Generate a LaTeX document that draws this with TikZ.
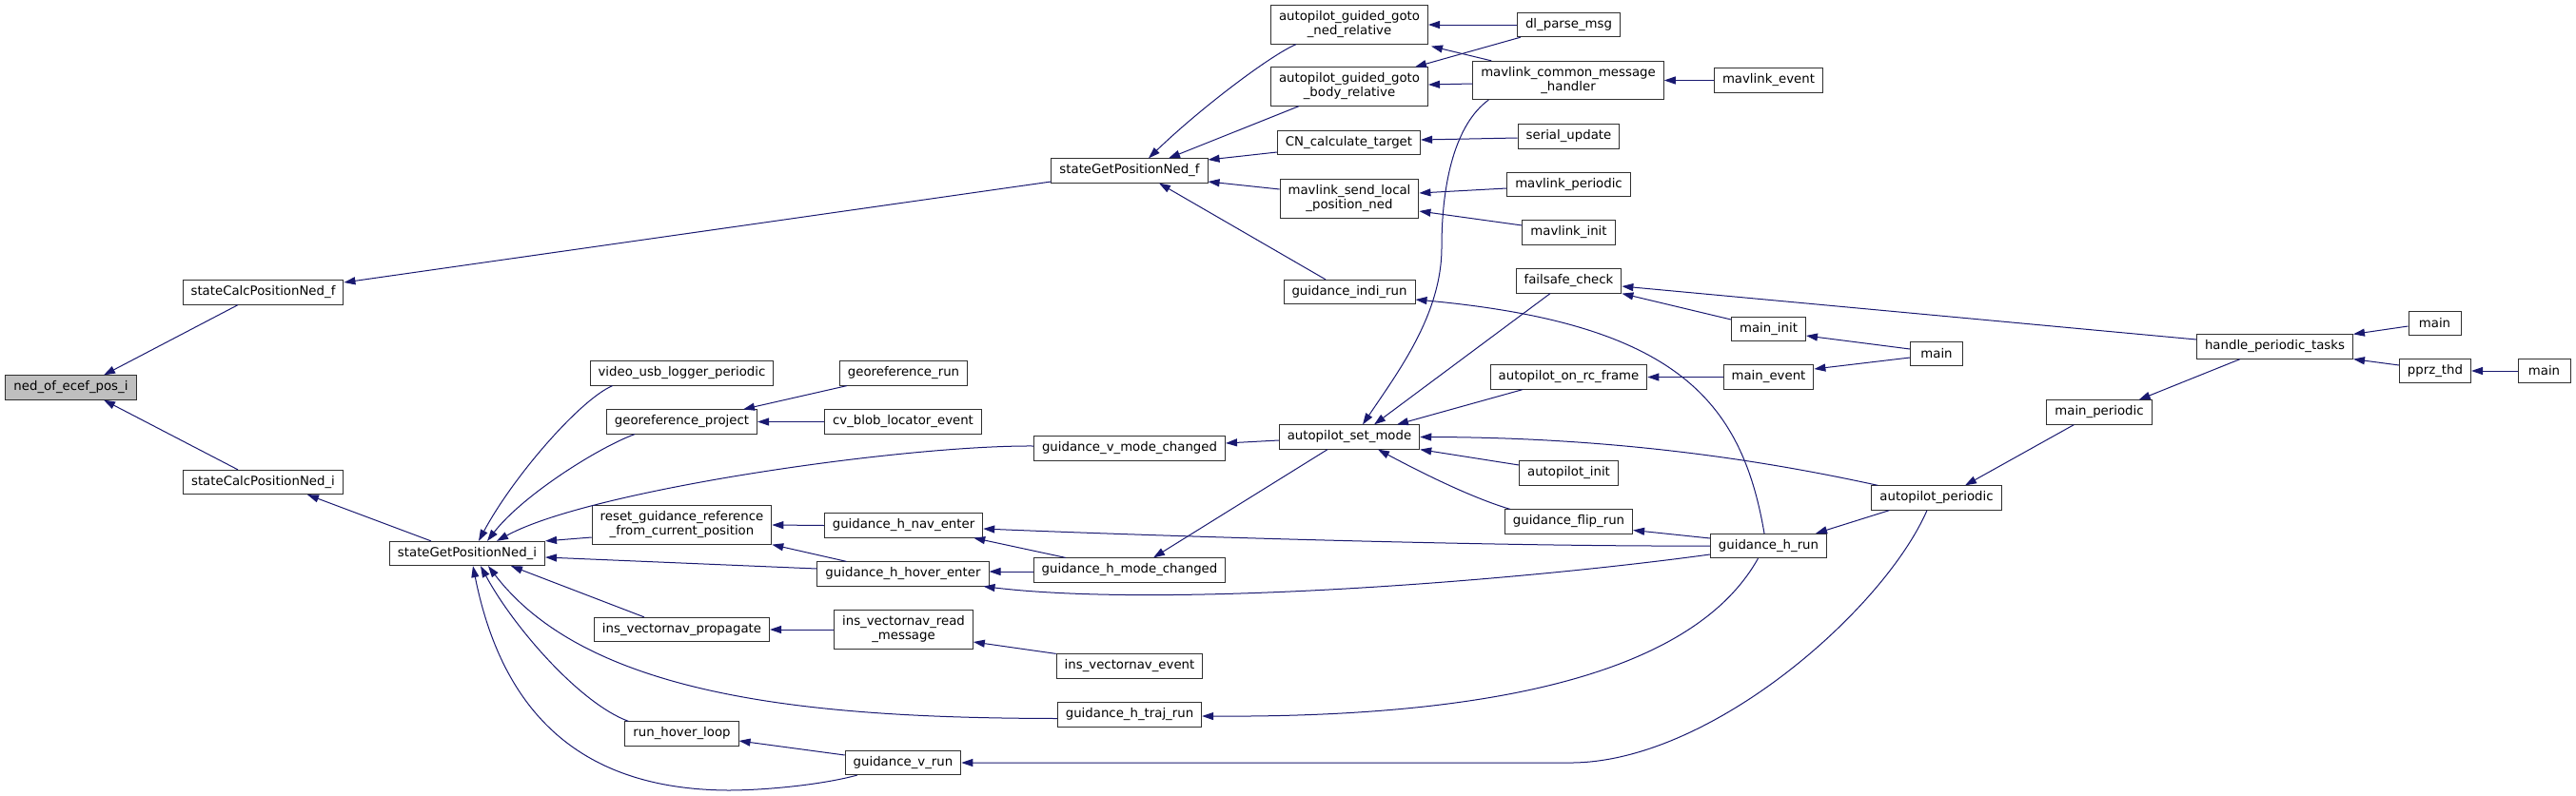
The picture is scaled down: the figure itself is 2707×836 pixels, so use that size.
\documentclass[tikz,border=0pt]{standalone}
\usepackage{fontspec}
\setmainfont{DejaVu Sans}
\usetikzlibrary{arrows.meta}
\definecolor{edgeblue}{HTML}{191970}
\definecolor{boxline}{HTML}{303030}
\definecolor{focusgray}{HTML}{BFBFBF}

\begin{document}
\begin{tikzpicture}[x=1pt, y=-1pt, >={Triangle[length=12pt,width=8pt]},
  fn/.style={draw=boxline, line width=1pt, fill=white, inner xsep=8.5pt, inner ysep=6pt,
    minimum height=25pt, minimum width=55pt, align=center, font=\fontsize{13.3}{15}\selectfont},
  call/.style={->, draw=edgeblue, line width=1pt}]
  \useasboundingbox (0,0) rectangle (2707,836);

  % functions, column by column
  \node[fn, fill=focusgray] (ned) at (74.5,407.5) {ned\_of\_ecef\_pos\_i};
  \node[fn] (calcf) at (276.5,307.5) {stateCalcPositionNed\_f};
  \node[fn] (calci) at (276.5,507) {stateCalcPositionNed\_i};
  \node[fn] (getni) at (491,582) {stateGetPositionNed\_i};
  \node[fn] (getnf) at (1187,179.5) {stateGetPositionNed\_f};

  \node[fn] (vidlog) at (716.5,392.5) {video\_usb\_logger\_periodic};
  \node[fn] (geoproj) at (716.5,443.5) {georeference\_project};
  \node[fn] (resetref) at (716.5,552) {reset\_guidance\_reference\\\_from\_current\_position};
  \node[fn] (vnprop) at (716.5,662) {ins\_vectornav\_propagate};
  \node[fn] (hoverloop) at (716.5,771.5) {run\_hover\_loop};

  \node[fn] (georun) at (949.5,392.5) {georeference\_run};
  \node[fn] (cvblob) at (949,443.5) {cv\_blob\_locator\_event};
  \node[fn] (naventer) at (949.5,552.5) {guidance\_h\_nav\_enter};
  \node[fn] (hoverenter) at (949,603.5) {guidance\_h\_hover\_enter};
  \node[fn] (vnread) at (949.5,662) {ins\_vectornav\_read\\\_message};
  \node[fn] (vrun) at (949,802) {guidance\_v\_run};

  \node[fn] (vmode) at (1187,471.5) {guidance\_v\_mode\_changed};
  \node[fn] (hmode) at (1187,599.5) {guidance\_h\_mode\_changed};
  \node[fn] (vnevent) at (1187,700.5) {ins\_vectornav\_event};
  \node[fn] (trajrun) at (1187,751.5) {guidance\_h\_traj\_run};

  \node[fn] (gotoned) at (1418,26) {autopilot\_guided\_goto\\\_ned\_relative};
  \node[fn] (gotobody) at (1418,91) {autopilot\_guided\_goto\\\_body\_relative};
  \node[fn] (cntarget) at (1417.5,150) {CN\_calculate\_target};
  \node[fn] (mavlocal) at (1418,209) {mavlink\_send\_local\\\_position\_ned};
  \node[fn] (indirun) at (1418,307) {guidance\_indi\_run};
  \node[fn] (setmode) at (1418,459.5) {autopilot\_set\_mode};

  \node[fn] (dlparse) at (1648.5,26) {dl\_parse\_msg};
  \node[fn] (mavcommon) at (1648,84.5) {mavlink\_common\_message\\\_handler};
  \node[fn] (serupd) at (1648.5,143.5) {serial\_update};
  \node[fn] (mavper) at (1648.5,194) {mavlink\_periodic};
  \node[fn] (mavinit) at (1648.5,244.5) {mavlink\_init};
  \node[fn] (failsafe) at (1648.5,295.5) {failsafe\_check};
  \node[fn] (rcframe) at (1648.5,396.5) {autopilot\_on\_rc\_frame};
  \node[fn] (apinit) at (1648.5,497.5) {autopilot\_init};
  \node[fn] (fliprun) at (1648.5,548.5) {guidance\_flip\_run};

  \node[fn] (mavevent) at (1858.5,84.5) {mavlink\_event};
  \node[fn] (maininit) at (1858.5,346) {main\_init};
  \node[fn] (mainevent) at (1858.5,396.5) {main\_event};
  \node[fn] (hrun) at (1858.5,574) {guidance\_h\_run};

  \node[fn] (mainA) at (2035,371.5) {main};
  \node[fn] (apper) at (2035,523.5) {autopilot\_periodic};
  \node[fn] (mainper) at (2206,433.5) {main\_periodic};
  \node[fn] (periodic) at (2390.5,364.5) {handle\_periodic\_tasks};
  \node[fn] (mainB) at (2558.5,339.5) {main};
  \node[fn] (pprz) at (2559,390) {pprz\_thd};
  \node[fn] (mainC) at (2673.5,390) {main};

  % left part
  \draw[call] ([xshift=-26.5pt]calcf.south) -- ([xshift=34.5pt]ned.north);
  \draw[call] ([xshift=-26.5pt]calci.north) -- ([xshift=34.5pt]ned.south);
  \draw[call] ([yshift=-11.5pt]getnf.west) -- ([yshift=10.5pt]calcf.east);
  \draw[call] ([xshift=-38pt]getni.north) -- ([xshift=46.5pt]calci.south);

  % callers of stateGetPositionNed_f
  \draw[call] ([xshift=-56pt]gotoned.south) .. controls (1335,58) and (1260,115) .. ([xshift=20pt]getnf.north);
  \draw[call] ([xshift=-53pt]gotobody.south) -- ([xshift=41pt]getnf.north);
  \draw[call] ([yshift=-10pt]cntarget.west) -- ([yshift=11.5pt]getnf.east);
  \draw[call] ([yshift=10pt]mavlocal.west) -- ([yshift=-11.5pt]getnf.east);
  \draw[call] ([xshift=-25pt]indirun.north) -- ([xshift=31pt]getnf.south);
  \draw[call] (dlparse.west) -- (gotoned.east);
  \draw[call] ([xshift=4pt]dlparse.south west) -- ([xshift=-14pt]gotobody.north east);
  \draw[call] ([xshift=20pt]mavcommon.north west) -- ([xshift=3pt,yshift=-2pt]gotoned.south east);
  \draw[call] ([yshift=-3.5pt]mavcommon.west) -- ([yshift=2pt]gotobody.east);
  \draw[call] (mavevent.west) -- (mavcommon.east);
  \draw[call] ([yshift=-1.5pt]serupd.west) -- ([yshift=3pt]cntarget.east);
  \draw[call] ([yshift=-4pt]mavper.west) -- ([yshift=6pt]mavlocal.east);
  \draw[call] ([yshift=7.5pt]mavinit.west) -- ([yshift=-13pt]mavlocal.east);
  \draw[call] ([xshift=-4.5pt]hrun.north) .. controls (1830,420) and (1760,340) .. ([yshift=-8pt]indirun.east);

  % autopilot_set_mode
  \draw[call] ([xshift=17pt]mavcommon.south west) .. controls (1530,130) and (1515,190) .. (1515,260)
    .. controls (1515,330) and (1470,390) .. ([xshift=14pt]setmode.north);
  \draw[call] ([xshift=-19.5pt]failsafe.south) -- ([xshift=26pt]setmode.north);
  \draw[call] ([xshift=-48.5pt]rcframe.south) -- ([xshift=50pt]setmode.north);
  \draw[call] ([xshift=7pt]apper.north west) .. controls (1880,490) and (1720,460) .. (setmode.east);
  \draw[call] ([yshift=8.5pt]apinit.west) -- (setmode.south east);
  \draw[call] ([xshift=6pt]fliprun.north west) .. controls (1545,523) and (1490,495) .. ([xshift=30pt]setmode.south);

  % main loops
  \draw[call] ([yshift=10pt]maininit.west) -- (failsafe.south east);
  \draw[call] ([yshift=7.5pt]periodic.west) -- ([yshift=-5.5pt]failsafe.east);
  \draw[call] ([yshift=4.5pt]mainA.west) -- ([yshift=-7pt]maininit.east);
  \draw[call] ([yshift=-4.5pt]mainA.west) -- ([yshift=8.5pt]mainevent.east);
  \draw[call] (mainevent.west) -- (rcframe.east);
  \draw[call] ([xshift=19pt]apper.south west) -- ([xshift=-12pt]hrun.north east);
  \draw[call] ([yshift=8pt]hrun.west) -- ([yshift=-9pt]fliprun.east);
  \draw[call] ([xshift=29pt]mainper.south west) -- ([xshift=30pt]apper.north);
  \draw[call] ([xshift=-36.5pt]periodic.south) -- ([xshift=-14pt]mainper.north east);
  \draw[call] ([yshift=-3.5pt]mainB.west) -- (periodic.north east);
  \draw[call] ([yshift=6pt]pprz.west) -- (periodic.south east);
  \draw[call] (mainC.west) -- (pprz.east);

  % guidance
  \draw[call] ([yshift=-3.5pt]setmode.west) -- ([yshift=5.5pt]vmode.east);
  \draw[call] ([xshift=-23pt]setmode.south) -- ([xshift=25pt]hmode.north);
  \draw[call] ([xshift=34pt]hmode.north west) -- ([xshift=-10pt]naventer.south east);
  \draw[call] ([yshift=-1.5pt]hmode.west) -- ([yshift=2.5pt]hoverenter.east);
  \draw[call] (hrun.west) .. controls (1600,575) and (1250,565) .. ([yshift=-3.5pt]naventer.east);
  \draw[call] ([yshift=-9pt]hrun.west) .. controls (1600,610) and (1230,640) .. ([xshift=-6pt]hoverenter.south east);
  \draw[call] ([xshift=-11pt]hrun.south) .. controls (1790,690) and (1620,755) .. ([yshift=-1.5pt]trajrun.east);
  \draw[call] ([xshift=-10pt]apper.south) .. controls (1980,640) and (1800,800) .. (1653,802) -- (vrun.east);

  % callers of stateGetPositionNed_i
  \draw[call] ([xshift=8pt]georun.south west) -- ([xshift=-15pt]geoproj.north east);
  \draw[call] (cvblob.west) -- (geoproj.east);
  \draw[call] ([xshift=24pt]vidlog.south west) .. controls (610,420) and (540,500) .. ([xshift=12pt]getni.north);
  \draw[call] ([xshift=30pt]geoproj.south west) .. controls (630,470) and (550,520) .. ([xshift=21pt]getni.north);
  \draw[call] ([yshift=2.5pt]vmode.west) .. controls (950,468) and (620,515) .. ([xshift=31pt]getni.north);
  \draw[call] ([yshift=-13pt]resetref.west) -- (getni.north east);
  \draw[call] ([yshift=5.5pt]hoverenter.west) -- ([yshift=-4pt]getni.east);
  \draw[call] ([xshift=-39.5pt]vnprop.north) -- ([xshift=46pt]getni.south);
  \draw[call] ([yshift=-4pt]trajrun.west) .. controls (860,755) and (620,735) .. ([xshift=22pt]getni.south);
  \draw[call] ([xshift=4pt]hoverloop.north west) .. controls (610,740) and (540,660) .. ([xshift=14pt]getni.south);
  \draw[call] ([xshift=13pt]vrun.south west) .. controls (860,826) and (800,831) .. (765,831)
    .. controls (620,830) and (530,760) .. ([xshift=6pt]getni.south);
  \draw[call] (naventer.west) -- (resetref.east);
  \draw[call] ([xshift=31pt]hoverenter.north west) -- (resetref.south east);
  \draw[call] (vnread.west) -- (vnprop.east);
  \draw[call] (vnevent.north west) -- ([yshift=-13pt]vnread.east);
  \draw[call] ([yshift=8pt]vrun.west) -- ([yshift=-7.5pt]hoverloop.east);
\end{tikzpicture}
\end{document}
